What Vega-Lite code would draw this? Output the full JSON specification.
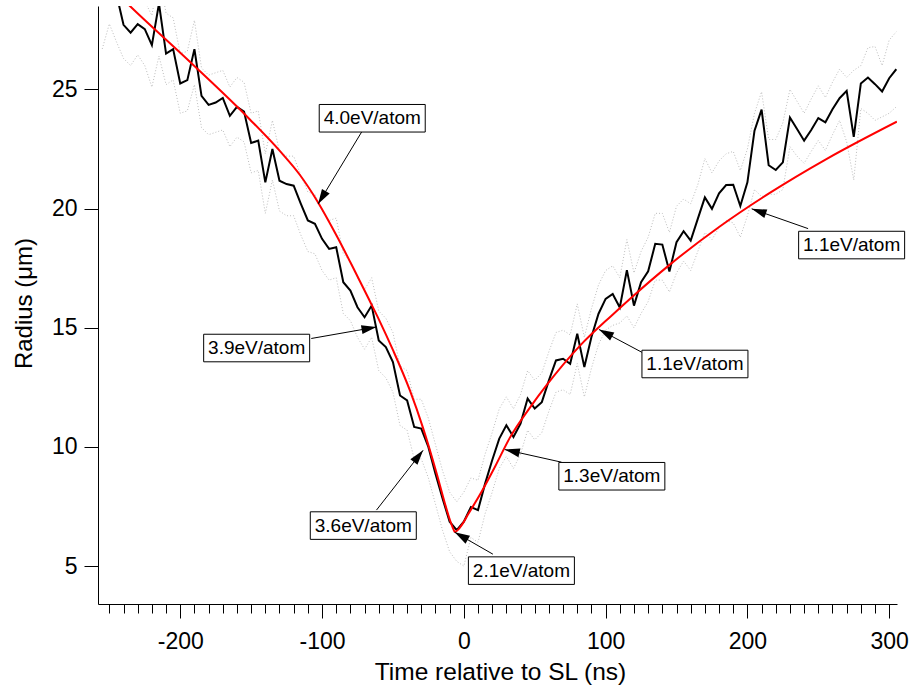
{
  "$schema": "https://vega.github.io/schema/vega-lite/v6.json",
  "width": 799,
  "height": 598,
  "autosize": "none",
  "padding": {"left": 98, "top": 6, "right": 15, "bottom": 83},
  "background": "white",
  "config": {
    "view": {"stroke": null},
    "font": "Liberation Sans",
    "axis": {"grid": false, "domainColor": "black", "tickColor": "black", "domainWidth": 1, "tickWidth": 1, "labelColor": "black", "titleColor": "black", "labelFont": "Liberation Sans", "titleFont": "Liberation Sans", "titleFontWeight": "normal"}
  },
  "datasets": {
    "obs": [
      {"t": -255, "hi": 29.5, "lo": 26.7},
      {"t": -250, "hi": 29.8, "lo": 27.75},
      {"t": -245, "r": 29.0, "hi": 30.2, "lo": 27.0},
      {"t": -240, "r": 27.71, "hi": 28.9, "lo": 26.3},
      {"t": -235, "r": 27.38, "hi": 28.6, "lo": 26.0},
      {"t": -230, "r": 27.74, "hi": 28.9, "lo": 26.45},
      {"t": -225, "r": 27.53, "hi": 28.7, "lo": 26.0},
      {"t": -220, "r": 26.86, "hi": 28.1, "lo": 25.1},
      {"t": -215, "r": 28.6, "hi": 29.8, "lo": 26.4},
      {"t": -210, "r": 26.5, "hi": 28.2, "lo": 25.2},
      {"t": -205, "r": 26.69, "hi": 28.0, "lo": 25.4},
      {"t": -200, "r": 25.25, "hi": 26.5, "lo": 24.0},
      {"t": -195, "r": 25.39, "hi": 26.6, "lo": 24.1},
      {"t": -190, "r": 26.69, "hi": 27.9, "lo": 25.2},
      {"t": -185, "r": 24.73, "hi": 25.9, "lo": 23.4},
      {"t": -180, "r": 24.35, "hi": 25.6, "lo": 23.1},
      {"t": -175, "r": 24.45, "hi": 25.7, "lo": 23.2},
      {"t": -170, "r": 24.64, "hi": 25.8, "lo": 23.3},
      {"t": -165, "r": 23.89, "hi": 25.1, "lo": 22.6},
      {"t": -160, "r": 24.27, "hi": 25.5, "lo": 23.0},
      {"t": -155, "r": 24.07, "hi": 25.3, "lo": 22.8},
      {"t": -150, "r": 22.75, "hi": 24.0, "lo": 21.5},
      {"t": -145, "r": 22.85, "hi": 24.1, "lo": 21.6},
      {"t": -140, "r": 21.1, "hi": 22.3, "lo": 19.8},
      {"t": -135, "r": 22.5, "hi": 23.7, "lo": 21.2},
      {"t": -130, "r": 21.17, "hi": 22.4, "lo": 19.9},
      {"t": -125, "r": 21.03, "hi": 22.2, "lo": 19.7},
      {"t": -120, "r": 20.96, "hi": 22.2, "lo": 19.7},
      {"t": -115, "r": 20.21, "hi": 21.4, "lo": 18.9},
      {"t": -110, "r": 19.5, "hi": 20.7, "lo": 18.2},
      {"t": -105, "r": 19.36, "hi": 20.6, "lo": 18.1},
      {"t": -100, "r": 18.73, "hi": 19.9, "lo": 17.4},
      {"t": -95, "r": 18.31, "hi": 19.5, "lo": 17.0},
      {"t": -90, "r": 18.38, "hi": 19.6, "lo": 17.1},
      {"t": -85, "r": 16.91, "hi": 18.1, "lo": 15.6},
      {"t": -80, "r": 16.56, "hi": 17.8, "lo": 15.3},
      {"t": -75, "r": 15.86, "hi": 17.1, "lo": 14.6},
      {"t": -70, "r": 15.44, "hi": 16.6, "lo": 14.1},
      {"t": -65, "r": 15.93, "hi": 17.1, "lo": 14.6},
      {"t": -60, "r": 14.47, "hi": 15.7, "lo": 13.2},
      {"t": -55, "r": 14.19, "hi": 15.4, "lo": 12.9},
      {"t": -50, "r": 13.56, "hi": 14.8, "lo": 12.3},
      {"t": -45, "r": 12.16, "hi": 13.4, "lo": 10.9},
      {"t": -40, "r": 11.95, "hi": 13.2, "lo": 10.7},
      {"t": -35, "r": 10.84, "hi": 12.0, "lo": 9.5},
      {"t": -30, "r": 10.77, "hi": 12.0, "lo": 9.5},
      {"t": -25, "r": 10.0, "hi": 11.2, "lo": 8.7},
      {"t": -20, "r": 8.88, "hi": 10.1, "lo": 7.6},
      {"t": -15, "r": 7.84, "hi": 9.0, "lo": 6.5},
      {"t": -10, "r": 6.86, "hi": 8.1, "lo": 5.6},
      {"t": -5, "r": 6.51, "hi": 7.7, "lo": 5.2},
      {"t": 0, "r": 6.86, "hi": 8.1, "lo": 5.0},
      {"t": 5, "r": 7.48, "hi": 8.7, "lo": 6.2},
      {"t": 10, "r": 7.35, "hi": 8.6, "lo": 6.0},
      {"t": 15, "r": 8.46, "hi": 9.7, "lo": 7.2},
      {"t": 20, "r": 9.44, "hi": 10.6, "lo": 8.1},
      {"t": 25, "r": 10.35, "hi": 11.6, "lo": 9.1},
      {"t": 30, "r": 10.91, "hi": 12.1, "lo": 9.6},
      {"t": 35, "r": 10.42, "hi": 11.6, "lo": 9.1},
      {"t": 40, "r": 10.98, "hi": 12.2, "lo": 9.7},
      {"t": 45, "r": 12.03, "hi": 13.2, "lo": 10.7},
      {"t": 50, "r": 11.61, "hi": 12.8, "lo": 10.3},
      {"t": 55, "r": 11.88, "hi": 13.1, "lo": 10.6},
      {"t": 60, "r": 12.79, "hi": 14.0, "lo": 11.5},
      {"t": 65, "r": 13.63, "hi": 14.8, "lo": 12.3},
      {"t": 70, "r": 13.7, "hi": 14.9, "lo": 12.4},
      {"t": 75, "r": 13.49, "hi": 14.7, "lo": 12.2},
      {"t": 80, "r": 14.75, "hi": 16.0, "lo": 13.5},
      {"t": 85, "r": 13.35, "hi": 14.6, "lo": 12.1},
      {"t": 90, "r": 14.61, "hi": 15.8, "lo": 13.3},
      {"t": 95, "r": 15.59, "hi": 16.8, "lo": 14.3},
      {"t": 100, "r": 16.21, "hi": 17.4, "lo": 14.9},
      {"t": 105, "r": 16.42, "hi": 17.6, "lo": 15.1},
      {"t": 110, "r": 15.85, "hi": 17.1, "lo": 15.2},
      {"t": 115, "r": 17.42, "hi": 18.7, "lo": 15.5},
      {"t": 120, "r": 15.93, "hi": 17.3, "lo": 15.0},
      {"t": 125, "r": 16.91, "hi": 18.2, "lo": 15.6},
      {"t": 130, "r": 17.37, "hi": 18.8, "lo": 16.1},
      {"t": 135, "r": 18.52, "hi": 19.8, "lo": 17.0},
      {"t": 140, "r": 18.49, "hi": 19.8, "lo": 17.0},
      {"t": 145, "r": 17.36, "hi": 19.0, "lo": 16.5},
      {"t": 150, "r": 18.59, "hi": 20.1, "lo": 17.3},
      {"t": 155, "r": 19.05, "hi": 20.4, "lo": 17.8},
      {"t": 160, "r": 18.66, "hi": 20.2, "lo": 17.4},
      {"t": 165, "r": 19.57, "hi": 21.0, "lo": 18.2},
      {"t": 170, "r": 20.47, "hi": 22.1, "lo": 19.0},
      {"t": 175, "r": 19.99, "hi": 21.5, "lo": 18.7},
      {"t": 180, "r": 20.64, "hi": 22.0, "lo": 19.2},
      {"t": 185, "r": 20.99, "hi": 22.3, "lo": 19.5},
      {"t": 190, "r": 21.0, "hi": 22.4, "lo": 19.4},
      {"t": 195, "r": 20.11, "hi": 21.6, "lo": 18.8},
      {"t": 200, "r": 21.1, "hi": 22.5, "lo": 19.7},
      {"t": 205, "r": 23.27, "hi": 24.0, "lo": 20.8},
      {"t": 210, "r": 24.15, "hi": 24.9, "lo": 20.5},
      {"t": 215, "r": 21.82, "hi": 22.9, "lo": 20.6},
      {"t": 220, "r": 21.62, "hi": 22.9, "lo": 20.6},
      {"t": 225, "r": 21.94, "hi": 23.6, "lo": 20.8},
      {"t": 230, "r": 23.82, "hi": 25.0, "lo": 22.6},
      {"t": 235, "r": 23.34, "hi": 24.5, "lo": 22.2},
      {"t": 240, "r": 22.85, "hi": 24.0, "lo": 21.9},
      {"t": 245, "r": 23.3, "hi": 24.6, "lo": 22.4},
      {"t": 250, "r": 23.8, "hi": 25.15, "lo": 22.86},
      {"t": 255, "r": 23.62, "hi": 24.66, "lo": 22.44},
      {"t": 260, "r": 24.17, "hi": 25.3, "lo": 23.1},
      {"t": 265, "r": 24.63, "hi": 25.85, "lo": 23.7},
      {"t": 270, "r": 24.94, "hi": 25.5, "lo": 22.8},
      {"t": 275, "r": 23.01, "hi": 25.8, "lo": 21.2},
      {"t": 280, "r": 25.25, "hi": 26.0, "lo": 24.2},
      {"t": 285, "r": 25.5, "hi": 26.75, "lo": 24.0},
      {"t": 290, "r": 25.22, "hi": 26.8, "lo": 23.7},
      {"t": 295, "r": 24.91, "hi": 26.0, "lo": 23.85},
      {"t": 300, "r": 25.47, "hi": 27.07, "lo": 24.0},
      {"t": 305, "r": 25.85, "hi": 27.42, "lo": 24.27}
    ],
    "fit": [
      {"t": -245, "fit": 29.05},
      {"t": -235.5, "fit": 28.5},
      {"t": -193.2, "fit": 26.16},
      {"t": -150.9, "fit": 23.74},
      {"t": -129.8, "fit": 22.42},
      {"t": -115.7, "fit": 21.42},
      {"t": -103.0, "fit": 20.28},
      {"t": -89.6, "fit": 18.85},
      {"t": -76.9, "fit": 17.38},
      {"t": -66.3, "fit": 16.12},
      {"t": -59.2, "fit": 15.26},
      {"t": -50.1, "fit": 14.08},
      {"t": -38.1, "fit": 12.38},
      {"t": -28.9, "fit": 10.82},
      {"t": -19.0, "fit": 8.85},
      {"t": -13.4, "fit": 7.64},
      {"t": -9.9, "fit": 6.95},
      {"t": -7.3, "fit": 6.54},
      {"t": -6.3, "fit": 6.43},
      {"t": -4.2, "fit": 6.52},
      {"t": -1.4, "fit": 6.73},
      {"t": 2.8, "fit": 7.15},
      {"t": 11.3, "fit": 7.99},
      {"t": 21.9, "fit": 9.16},
      {"t": 32.4, "fit": 10.38},
      {"t": 46.5, "fit": 11.64},
      {"t": 58.5, "fit": 12.6},
      {"t": 81.8, "fit": 14.24},
      {"t": 105.1, "fit": 15.56},
      {"t": 117.1, "fit": 16.21},
      {"t": 145.3, "fit": 17.65},
      {"t": 180.5, "fit": 19.25},
      {"t": 215.8, "fit": 20.66},
      {"t": 256.0, "fit": 22.09},
      {"t": 305.4, "fit": 23.65}
    ],
    "ann": [
      {"label": "4.0eV/atom", "lx": -64.6, "ly": 23.79, "x1": -72.0, "y1": 23.22, "x2": -102.8, "y2": 20.19},
      {"label": "3.9eV/atom", "lx": -146.1, "ly": 14.15, "x1": -107.6, "y1": 14.55, "x2": -61.6, "y2": 15.03},
      {"label": "3.6eV/atom", "lx": -70.9, "ly": 6.7, "x1": -61.6, "y1": 7.35, "x2": -28.7, "y2": 9.86},
      {"label": "2.1eV/atom", "lx": 40.6, "ly": 4.81, "x1": 20.5, "y1": 5.5, "x2": -6.4, "y2": 6.42},
      {"label": "1.3eV/atom", "lx": 104.4, "ly": 8.77, "x1": 68.9, "y1": 9.36, "x2": 28.9, "y2": 9.89},
      {"label": "1.1eV/atom", "lx": 163.0, "ly": 13.48, "x1": 125.6, "y1": 13.97, "x2": 95.3, "y2": 14.93},
      {"label": "1.1eV/atom", "lx": 273.5, "ly": 18.47, "x1": 242.8, "y1": 19.16, "x2": 203.0, "y2": 19.99}
    ]
  },
  "resolve": {"axis": {"x": "independent", "y": "independent"}},
  "layer": [
    {
      "data": {"name": "obs"},
      "mark": {"type": "line", "clip": true, "color": "#bdbdbd", "strokeWidth": 1, "strokeDash": [1, 2]},
      "encoding": {
        "x": {"field": "t", "type": "quantitative", "scale": {"domain": [-258, 305.5], "nice": false, "zero": false},
          "axis": {"orient": "bottom", "values": [-200, -100, 0, 100, 200, 300], "labelExpr": "'' + datum.value", "tickSize": 14, "labelFontSize": 23, "labelPadding": 12, "title": "Time relative to SL (ns)", "titleFontSize": 24.5, "titleX": 402, "titleY": 75, "titleBaseline": "alphabetic", "titleAnchor": null, "titleAlign": "center"}},
        "y": {"field": "hi", "type": "quantitative", "scale": {"domain": [3.41, 28.5], "nice": false, "zero": false},
          "axis": {"orient": "left", "values": [5, 10, 15, 20, 25], "tickSize": 14, "labelFontSize": 23, "labelPadding": 7, "title": "Radius (μm)", "titleFontSize": 24, "titleAngle": -90, "titleX": -67, "titleY": 297, "titleBaseline": "alphabetic", "titleAlign": "center"}}
      }
    },
    {
      "data": {"name": "obs"},
      "mark": {"type": "line", "clip": true, "color": "#bdbdbd", "strokeWidth": 1, "strokeDash": [1, 2]},
      "encoding": {
        "x": {"field": "t", "type": "quantitative", "scale": {"domain": [-258, 305.5], "nice": false, "zero": false},
          "axis": {"orient": "bottom", "values": [-250, -240, -230, -220, -210, -190, -180, -170, -160, -150, -140, -130, -120, -110, -90, -80, -70, -60, -50, -40, -30, -20, -10, 10, 20, 30, 40, 50, 60, 70, 80, 90, 110, 120, 130, 140, 150, 160, 170, 180, 190, 210, 220, 230, 240, 250, 260, 270, 280, 290], "tickSize": 9, "labels": false, "domain": false, "title": null}},
        "y": {"field": "lo", "type": "quantitative", "scale": {"domain": [3.41, 28.5], "nice": false, "zero": false}, "axis": null}
      }
    },
    {
      "data": {"name": "obs"},
      "mark": {"type": "line", "clip": true, "color": "black", "strokeWidth": 2},
      "encoding": {
        "x": {"field": "t", "type": "quantitative", "scale": {"domain": [-258, 305.5], "nice": false, "zero": false}, "axis": null},
        "y": {"field": "r", "type": "quantitative", "scale": {"domain": [3.41, 28.5], "nice": false, "zero": false}, "axis": null}
      }
    },
    {
      "data": {"name": "fit"},
      "mark": {"type": "line", "clip": true, "color": "#ff0000", "strokeWidth": 2, "interpolate": "monotone"},
      "encoding": {
        "x": {"field": "t", "type": "quantitative", "scale": {"domain": [-258, 305.5], "nice": false, "zero": false}, "axis": null},
        "y": {"field": "fit", "type": "quantitative", "scale": {"domain": [3.41, 28.5], "nice": false, "zero": false}, "axis": null}
      }
    },
    {
      "data": {"name": "ann"},
      "mark": {"type": "rule", "color": "black", "strokeWidth": 1},
      "encoding": {
        "x": {"field": "x1", "type": "quantitative", "scale": {"domain": [-258, 305.5], "nice": false, "zero": false}, "axis": null},
        "y": {"field": "y1", "type": "quantitative", "scale": {"domain": [3.41, 28.5], "nice": false, "zero": false}, "axis": null},
        "x2": {"field": "x2"},
        "y2": {"field": "y2"}
      }
    },
    {
      "data": {"name": "ann"},
      "transform": [
        {"calculate": "atan2((datum.x2 - datum.x1) * 1.418, (datum.y2 - datum.y1) * 23.84) * 180 / PI", "as": "ang"}
      ],
      "mark": {"type": "point", "shape": "M0,0L-0.3,1L0.3,1Z", "filled": true, "color": "black", "opacity": 1, "size": 900, "strokeWidth": 0},
      "encoding": {
        "x": {"field": "x2", "type": "quantitative", "scale": {"domain": [-258, 305.5], "nice": false, "zero": false}, "axis": null},
        "y": {"field": "y2", "type": "quantitative", "scale": {"domain": [3.41, 28.5], "nice": false, "zero": false}, "axis": null},
        "angle": {"field": "ang", "type": "quantitative", "scale": null}
      }
    },
    {
      "data": {"name": "ann"},
      "mark": {"type": "point", "shape": "M-1,-0.26H1V0.26H-1Z", "filled": true, "fill": "white", "stroke": "black", "strokeWidth": 1, "opacity": 1, "size": 11236},
      "encoding": {
        "x": {"field": "lx", "type": "quantitative", "scale": {"domain": [-258, 305.5], "nice": false, "zero": false}, "axis": null},
        "y": {"field": "ly", "type": "quantitative", "scale": {"domain": [3.41, 28.5], "nice": false, "zero": false}, "axis": null}
      }
    },
    {
      "data": {"name": "ann"},
      "mark": {"type": "text", "font": "Liberation Sans", "fontSize": 19, "align": "center", "baseline": "middle", "color": "black"},
      "encoding": {
        "x": {"field": "lx", "type": "quantitative", "scale": {"domain": [-258, 305.5], "nice": false, "zero": false}, "axis": null},
        "y": {"field": "ly", "type": "quantitative", "scale": {"domain": [3.41, 28.5], "nice": false, "zero": false}, "axis": null},
        "text": {"field": "label"}
      }
    }
  ]
}
